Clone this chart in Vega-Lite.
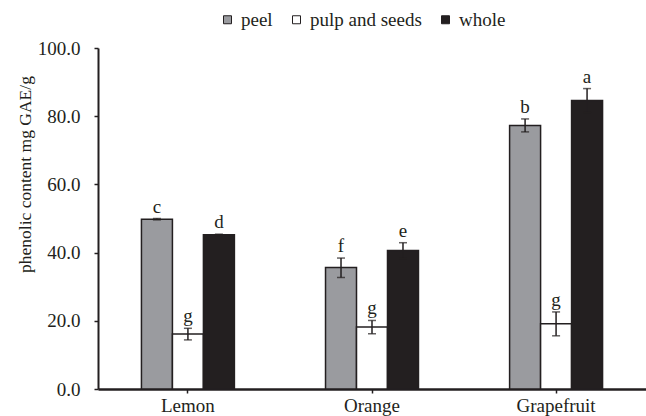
{
  "$schema": "https://vega.github.io/schema/vega-lite/v6.json",
  "width": 548,
  "height": 341,
  "autosize": {"type": "none"},
  "padding": {"left": 98, "top": 48, "right": 0, "bottom": 27},
  "background": "white",
  "config": {
    "font": "Liberation Serif",
    "view": {"stroke": null},
    "axis": {"labelFont": "Liberation Serif", "titleFont": "Liberation Serif", "labelColor": "#231f20", "titleColor": "#231f20", "domainColor": "#231f20", "tickColor": "#231f20", "grid": false},
    "legend": {"labelFont": "Liberation Serif"},
    "text": {"font": "Liberation Serif"}
  },
  "data": {
    "values": [
      {"fruit": "Lemon", "part": "peel", "value": 49.8, "lo": 49.6, "hi": 50.0, "letter": "c"},
      {"fruit": "Lemon", "part": "pulp and seeds", "value": 16.1, "lo": 14.4, "hi": 17.8, "letter": "g"},
      {"fruit": "Lemon", "part": "whole", "value": 45.2, "lo": 45.0, "hi": 45.4, "letter": "d"},
      {"fruit": "Orange", "part": "peel", "value": 35.6, "lo": 32.7, "hi": 38.4, "letter": "f"},
      {"fruit": "Orange", "part": "pulp and seeds", "value": 18.2, "lo": 16.2, "hi": 20.1, "letter": "g"},
      {"fruit": "Orange", "part": "whole", "value": 40.6, "lo": 38.3, "hi": 42.9, "letter": "e"},
      {"fruit": "Grapefruit", "part": "peel", "value": 77.3, "lo": 75.4, "hi": 79.2, "letter": "b"},
      {"fruit": "Grapefruit", "part": "pulp and seeds", "value": 19.1, "lo": 15.6, "hi": 22.6, "letter": "g"},
      {"fruit": "Grapefruit", "part": "whole", "value": 84.6, "lo": 81.1, "hi": 88.1, "letter": "a"}
    ]
  },
  "encoding": {
    "x": {
      "field": "fruit", "type": "nominal", "sort": ["Lemon", "Orange", "Grapefruit"],
      "scale": {"paddingInner": 0.495, "paddingOuter": 0.236},
      "axis": {"title": null, "labelAngle": 0, "labelFont": "Liberation Serif", "labelFontSize": 19, "labelPadding": 3, "tickSize": 4, "tickWidth": 1.5, "domainWidth": 2.5}
    },
    "xOffset": {"field": "part", "type": "nominal", "sort": ["peel", "pulp and seeds", "whole"], "scale": {"paddingInner": 0, "paddingOuter": 0}}
  },
  "layer": [
    {
      "mark": {"type": "bar", "stroke": "#231f20", "strokeWidth": 1.5},
      "encoding": {
        "y": {
          "field": "value", "type": "quantitative",
          "scale": {"domain": [0, 100], "nice": false},
          "axis": {"values": [0, 20, 40, 60, 80, 100], "format": ".1f", "title": "phenolic content mg GAE/g", "titleFont": "Liberation Serif", "titleFontSize": 17.5, "titleFontWeight": "normal", "labelFont": "Liberation Serif", "labelFontSize": 19, "tickSize": 4, "tickWidth": 1.5, "domainWidth": 2, "labelPadding": 14, "titleX": -73, "titleY": 126, "titleAngle": -90, "titleAlign": "center", "titleBaseline": "middle"}
        },
        "fill": {
          "field": "part", "type": "nominal",
          "scale": {"domain": ["peel", "pulp and seeds", "whole"], "range": ["#9a9b9f", "#ffffff", "#231f20"]},
          "legend": {"title": null, "orient": "none", "direction": "horizontal", "legendX": 120, "legendY": -38, "symbolType": "square", "symbolSize": 64, "symbolStrokeColor": "#231f20", "symbolStrokeWidth": 1, "labelFont": "Liberation Serif", "labelFontSize": 19, "labelColor": "#231f20", "labelOffset": 4, "columnPadding": 14}
        }
      }
    },
    {
      "mark": {"type": "rule", "color": "#231f20", "strokeWidth": 1.5},
      "encoding": {"y": {"field": "lo", "type": "quantitative"}, "y2": {"field": "hi"}}
    },
    {
      "mark": {"type": "tick", "color": "#231f20", "thickness": 1.5, "size": 8},
      "encoding": {"y": {"field": "lo", "type": "quantitative"}}
    },
    {
      "mark": {"type": "tick", "color": "#231f20", "thickness": 1.5, "size": 8},
      "encoding": {"y": {"field": "hi", "type": "quantitative"}}
    },
    {
      "mark": {"type": "text", "font": "Liberation Serif", "baseline": "alphabetic", "dy": -6, "fontSize": 19, "color": "#231f20"},
      "encoding": {"y": {"field": "hi", "type": "quantitative"}, "text": {"field": "letter"}}
    }
  ]
}
